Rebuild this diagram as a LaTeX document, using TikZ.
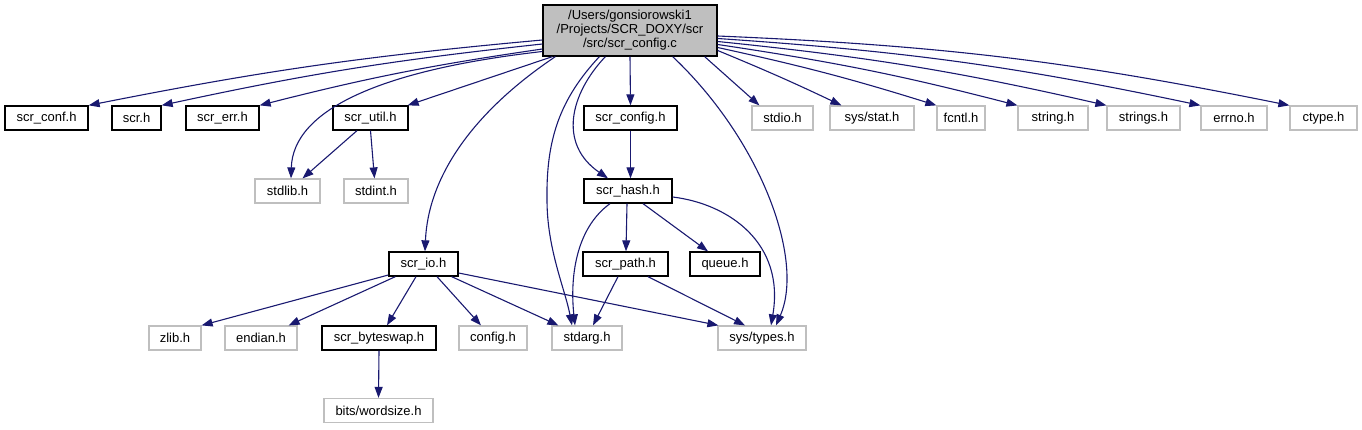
\documentclass[tikz,border=0pt]{standalone}
\usepackage{fontspec}
\setmainfont{Liberation Sans}
\usetikzlibrary{arrows.meta}
\definecolor{edgeblue}{HTML}{191970}
\definecolor{sysgray}{HTML}{BFBFBF}
\tikzset{
  box/.style={draw=black, line width=1.3pt, minimum height=24pt, inner sep=0pt, font=\fontsize{13}{15}\selectfont, anchor=center},
  sysbox/.style={box, draw=sysgray, line width=1.2pt},
  mainbox/.style={box, fill=sysgray, minimum height=51pt, align=center, font=\fontsize{13}{14}\selectfont},
  edge/.style={draw=edgeblue, line width=1.1pt, -{Triangle[length=11pt,width=8pt]}}
}
\begin{document}
\begin{tikzpicture}[x=1pt,y=1pt]
\useasboundingbox (0,0) rectangle (1362,429);
% main
\node[mainbox, minimum width=174pt] (main) at (630,398.5) {/Users/gonsiorowski1\\/Projects/SCR\_DOXY/scr\\/src/scr\_config.c};
% row 1
\node[box, minimum width=83pt] (conf) at (46.5,311) {scr\_conf.h};
\node[box, minimum width=49pt] (scr) at (136.5,311) {scr.h};
\node[box, minimum width=73pt] (err) at (222.5,311) {scr\_err.h};
\node[box, minimum width=75pt] (util) at (370.5,311) {scr\_util.h};
\node[box, minimum width=93pt] (config) at (630.5,311) {scr\_config.h};
\node[sysbox, minimum width=61pt] (stdio) at (782.5,311) {stdio.h};
\node[sysbox, minimum width=84pt] (stat) at (872,311) {sys/stat.h};
\node[sysbox, minimum width=48pt] (fcntl) at (961,311) {fcntl.h};
\node[sysbox, minimum width=70pt] (string) at (1053,311) {string.h};
\node[sysbox, minimum width=73pt] (strings) at (1143.5,311) {strings.h};
\node[sysbox, minimum width=66pt] (errno) at (1234,311) {errno.h};
\node[sysbox, minimum width=67pt] (ctype) at (1323.5,311) {ctype.h};
% row 2
\node[sysbox, minimum width=65pt] (stdlib) at (287.5,238) {stdlib.h};
\node[sysbox, minimum width=64pt] (stdint) at (376,238) {stdint.h};
\node[box, minimum width=88pt] (hash) at (628,238) {scr\_hash.h};
% row 3
\node[box, minimum width=69pt] (io) at (423.5,165) {scr\_io.h};
\node[box, minimum width=85pt] (path) at (625.5,165) {scr\_path.h};
\node[box, minimum width=70pt] (queue) at (725,165) {queue.h};
% row 4
\node[sysbox, minimum width=52pt] (zlib) at (175,91) {zlib.h};
\node[sysbox, minimum width=72pt] (endian) at (261,91) {endian.h};
\node[box, minimum width=114pt] (byteswap) at (379,91) {scr\_byteswap.h};
\node[sysbox, minimum width=68pt] (configh) at (493,91) {config.h};
\node[sysbox, minimum width=70pt] (stdarg) at (587,91) {stdarg.h};
\node[sysbox, minimum width=88pt] (types) at (762,91) {sys/types.h};
% row 5
\node[sysbox, minimum width=109pt] (wordsize) at (378.5,18.5) {bits/wordsize.h};
% edges from main
\draw[edge] ([yshift=-9.5]main.west) to[bend right=3] (conf.north east);
\draw[edge] ([yshift=-13.5]main.west) to[bend right=3] (scr.north east);
\draw[edge] ([yshift=-18.5]main.west) to[bend right=3] (err.north east);
\draw[edge] ([yshift=-21]main.west) .. controls (380,359) and (293,319) .. ([xshift=3.5]stdlib.north);
\draw[edge] ([xshift=10]main.south west) -- ([xshift=-1]util.north east);
\draw[edge] ([xshift=13]main.south west) .. controls (470,315) and (428,250) .. ([xshift=1.5]io.north);
\draw[edge] ([xshift=57]main.south west) .. controls (560,330) and (546,290) .. (547,229) .. controls (547,180) and (565,140) .. ([xshift=-15]stdarg.north);
\draw[edge] ([xshift=63]main.south west) .. controls (570,335) and (558,285) .. ([xshift=-20]hash.north);
\draw[edge] (main.south) -- (config.north);
\draw[edge] ([xshift=-45]main.south east) .. controls (760,290) and (805,170) .. ([xshift=14]types.north);
\draw[edge] ([xshift=-13]main.south east) -- ([xshift=8]stdio.north west);
\draw[edge] ([yshift=-20]main.east) to[bend left=1.5] ([xshift=12]stat.north west);
\draw[edge] ([yshift=-17]main.east) to[bend left=2.5] (fcntl.north west);
\draw[edge] ([yshift=-14]main.east) to[bend left=3] (string.north west);
\draw[edge] ([yshift=-11]main.east) to[bend left=3.5] (strings.north west);
\draw[edge] ([yshift=-8]main.east) to[bend left=4] (errno.north west);
\draw[edge] ([yshift=-5.5]main.east) to[bend left=4.5] (ctype.north west);
% scr_util
\draw[edge] ([xshift=-13.5]util.south) -- ([xshift=15]stdlib.north);
\draw[edge] (util.south) -- ([xshift=-1.5]stdint.north);
% scr_config
\draw[edge] (config.south) -- ([xshift=2.5]hash.north);
% scr_hash
\draw[edge] ([xshift=-18]hash.south) .. controls (575,200) and (570,150) .. ([xshift=-12]stdarg.north);
\draw[edge] ([xshift=-1]hash.south) -- ([xshift=0.5]path.north);
\draw[edge] ([xshift=15]hash.south) -- ([xshift=-17]queue.north);
\draw[edge] ([yshift=-6]hash.east) .. controls (730,225) and (785,185) .. ([xshift=9]types.north);
% scr_path
\draw[edge] ([xshift=-7.5]path.south) -- ([xshift=6]stdarg.north);
\draw[edge] ([xshift=22.5]path.south) -- ([xshift=-17]types.north);
% scr_io
\draw[edge] ([yshift=-11]io.west) -- (zlib.north east);
\draw[edge] ([xshift=7]io.south west) -- ([xshift=-9]endian.north east);
\draw[edge] ([xshift=-7.5]io.south) -- ([xshift=8]byteswap.north);
\draw[edge] ([xshift=13.5]io.south) -- ([xshift=-12]configh.north);
\draw[edge] ([xshift=-7]io.south east) -- ([xshift=7]stdarg.north west);
\draw[edge] ([yshift=-9]io.east) -- ([xshift=1]types.north west);
% scr_byteswap
\draw[edge] (byteswap.south) -- (wordsize.north);
\end{tikzpicture}
\end{document}
